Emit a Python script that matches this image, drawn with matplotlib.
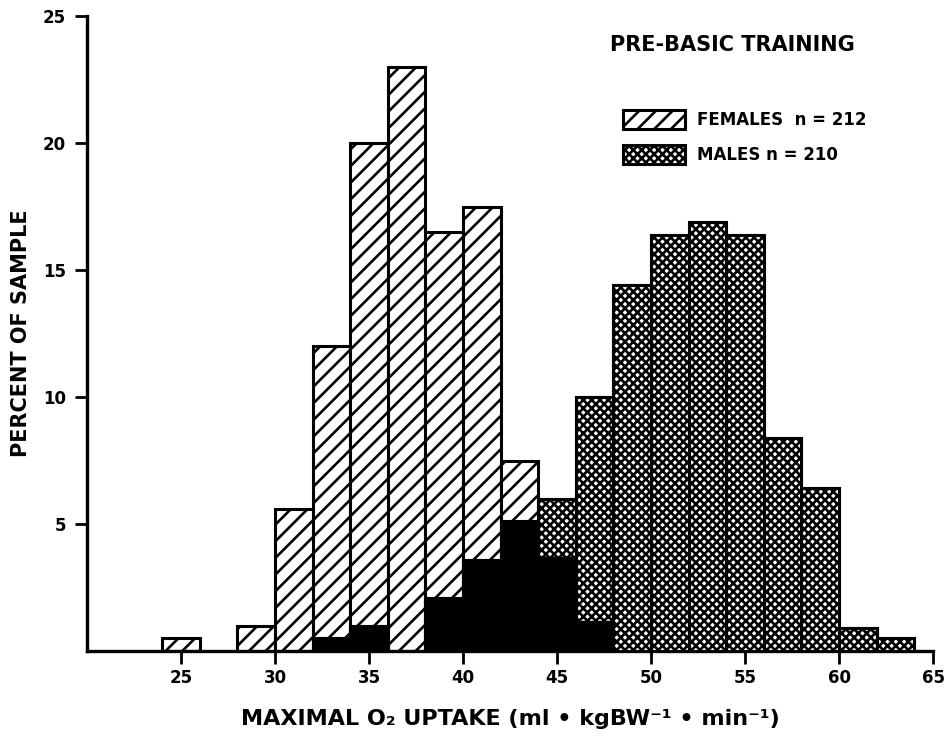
import matplotlib
matplotlib.use('Agg')
import matplotlib.pyplot as plt
from matplotlib.patches import Patch
import numpy as np

# bins of 2 ml/kg/min, left edges
bin_left = [24, 26, 28, 30, 32, 34, 36, 38, 40, 42,
            44, 46, 48, 50, 52, 54, 56, 58, 60, 62]
females = [0.5, 0, 1.0, 5.6, 12.0, 20.0, 23.0, 16.5, 17.5, 7.5,
           3.7, 1.2, 0, 0, 0, 0, 0, 0, 0, 0]
males = [0, 0, 0, 0, 0.5, 1.0, 0, 2.1, 3.6, 5.1,
         6.0, 10.0, 14.4, 16.4, 16.9, 16.4, 8.4, 6.4, 0.9, 0.5]
bin_width = 2

x_ticks = [25, 30, 35, 40, 45, 50, 55, 60, 65]
y_ticks = [5, 10, 15, 20, 25]

plt.rcParams['font.family'] = ['DejaVu Sans']
plt.rcParams['font.weight'] = 'bold'
plt.rcParams['hatch.linewidth'] = 1.9

fig = plt.figure(figsize=(9.48, 7.36), dpi=100)
ax = fig.add_axes([0.0918, 0.1155, 0.8924, 0.8625])

left = np.array(bin_left, dtype=float)
f = np.array(females)
m = np.array(males)

# females: diagonal hatch
sel = f > 0
ax.bar(left[sel], f[sel], width=bin_width, align='edge', facecolor='white',
       edgecolor='black', hatch='//', linewidth=2.2, zorder=2)

# males: dense crosshatch
sel = m > 0
ax.bar(left[sel], m[sel], width=bin_width, align='edge', facecolor='white',
       edgecolor='black', hatch='xxxx', linewidth=2.2, zorder=3)
ax.bar(left[sel], m[sel], width=bin_width, align='edge', fill=False,
       edgecolor='black', linewidth=2.2, zorder=4)

# overlap of both groups in solid black
both = np.minimum(f, m)
sel = both > 0
ax.bar(left[sel], both[sel], width=bin_width, align='edge', color='black',
       edgecolor='black', linewidth=1, zorder=5)

ax.set_xlim(20, 65)
ax.set_ylim(0, 25)
ax.set_xticks(x_ticks)
ax.set_yticks(y_ticks)
ax.tick_params(axis='both', width=2, length=9, labelsize=12, direction='out')
ax.tick_params(axis='y', pad=6)
ax.tick_params(axis='x', pad=4)
for lab in ax.get_xticklabels() + ax.get_yticklabels():
    lab.set_fontweight('bold')

for s in ['top', 'right']:
    ax.spines[s].set_visible(False)
for s in ['left', 'bottom']:
    ax.spines[s].set_linewidth(2.4)

ax.set_ylabel('PERCENT OF SAMPLE', fontsize=15, fontweight='bold', labelpad=9)
ax.set_xlabel('MAXIMAL O\u2082 UPTAKE (ml \u2022 kgBW\u207b\u00b9 \u2022 min\u207b\u00b9)',
              fontsize=16, fontweight='bold', labelpad=16)

ax.text(0.618, 0.954, 'PRE-BASIC TRAINING', transform=ax.transAxes,
        fontsize=15, fontweight='bold', va='center', ha='left')

handles = [
    Patch(facecolor='white', edgecolor='black', hatch='//', linewidth=2.2,
          label='FEMALES  n = 212'),
    Patch(facecolor='white', edgecolor='black', hatch='xxxx', linewidth=2.2,
          label='MALES n = 210'),
]
leg = ax.legend(handles=handles, loc='upper left', bbox_to_anchor=(0.634, 0.853),
                frameon=False, fontsize=12, handlelength=3.7, handleheight=1.4,
                handletextpad=0.7, labelspacing=0.95, borderaxespad=0,
                borderpad=0)
for t in leg.get_texts():
    t.set_fontweight('bold')

fig.savefig('out.png', dpi=100)
